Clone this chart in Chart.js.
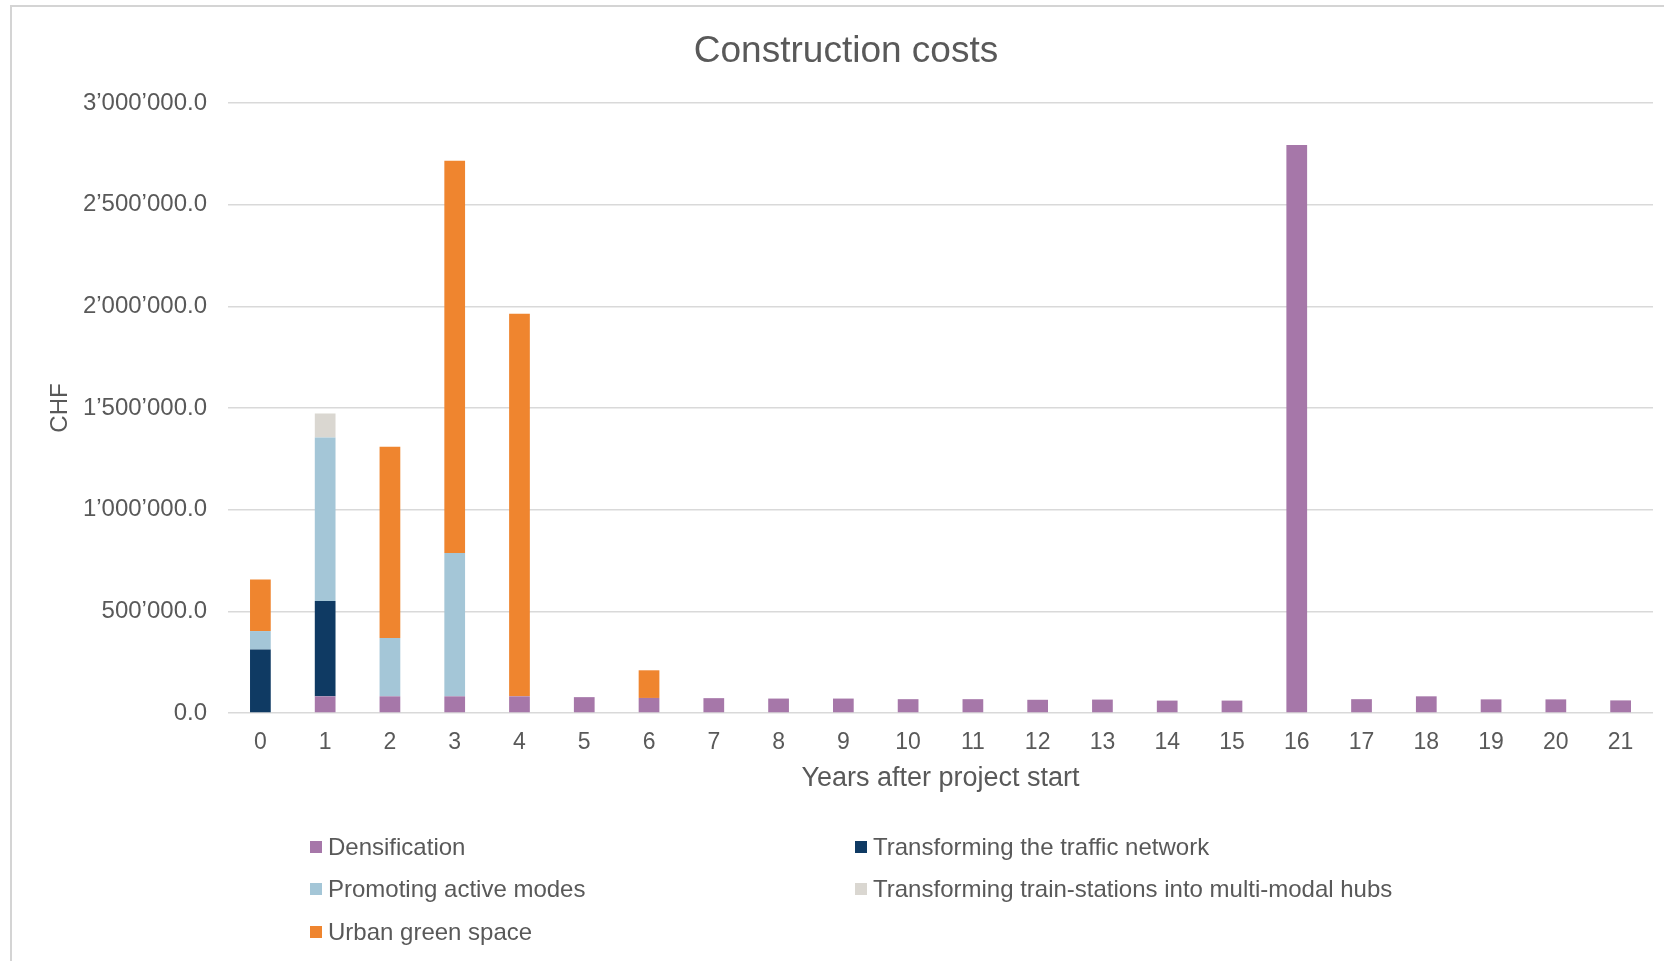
<!DOCTYPE html>
<html>
<head>
<meta charset="utf-8">
<script src="https://cdn.jsdelivr.net/npm/chart.js@4"></script>
<style>
    html, body { margin: 0; padding: 0; background: #ffffff; }
    canvas { display: block; }
</style>
</head>
<body>
<canvas id="barChart" width="1664" height="961"></canvas>
<script>
const years = ["0", "1", "2", "3", "4", "5", "6", "7", "8", "9", "10", "11", "12", "13", "14", "15", "16", "17", "18", "19", "20", "21"];

const densification = [0, 82000, 82000, 82000, 82000, 78000, 74000, 73000, 71000, 71000, 68000, 68000, 65000, 66000, 61000, 61000, 2793000, 68000, 82000, 67000, 67000, 62000];
const trafficNetwork = [312000, 469000, 0, 0, 0, 0, 0, 0, 0, 0, 0, 0, 0, 0, 0, 0, 0, 0, 0, 0, 0, 0];
const activeModes = [91000, 804000, 287000, 705000, 0, 0, 0, 0, 0, 0, 0, 0, 0, 0, 0, 0, 0, 0, 0, 0, 0, 0];
const trainStations = [0, 118000, 0, 0, 0, 0, 0, 0, 0, 0, 0, 0, 0, 0, 0, 0, 0, 0, 0, 0, 0, 0];
const greenSpace = [254000, 0, 941000, 1929000, 1881000, 0, 136000, 0, 0, 0, 0, 0, 0, 0, 0, 0, 0, 0, 0, 0, 0, 0];

const seriesNames = [
    "Densification",
    "Transforming the traffic network",
    "Promoting active modes",
    "Transforming train-stations into multi-modal hubs",
    "Urban green space",
];
const yTicks = [0, 500000, 1000000, 1500000, 2000000, 2500000, 3000000];

const textColor = "#595959";
const fontFamily = "'Liberation Sans', Arial, Helvetica, sans-serif";

// 3000000 -> 3’000’000.0
function chf(v) {
    const parts = v.toFixed(1).split(".");
    return parts[0].replace(/\B(?=(\d{3})+(?!\d))/g, "\u2019") + "." + parts[1];
}

// frame, title and the two-column legend
const decorPlugin = {
    id: "decor",
    beforeDraw(chart) {
        const c = chart.ctx;
        c.save();
        c.strokeStyle = "#d4d4d4";
        c.lineWidth = 2;
        c.strokeRect(11, 6, 1700, 1000);
        c.restore();
    },
    afterDraw(chart) {
        const c = chart.ctx;
        c.save();
        c.fillStyle = textColor;
        c.font = "37px " + fontFamily;
        c.textAlign = "center";
        c.textBaseline = "alphabetic";
        c.fillText("Construction costs", 846, 62);

        const colX = [310, 855];
        const rowY = [847, 889, 932];
        c.font = "24px " + fontFamily;
        c.textAlign = "left";
        c.textBaseline = "middle";
        chart.data.datasets.forEach((ds, i) => {
            const x = colX[i % 2];
            const y = rowY[Math.floor(i / 2)];
            c.fillStyle = ds.backgroundColor;
            c.fillRect(x, y - 6, 12, 12);
            c.fillStyle = textColor;
            c.fillText(ds.label, x + 18, y + 1);
        });
        c.restore();
    },
};

const ctx = document.getElementById("barChart").getContext("2d");

const data = {
    labels: years,
    datasets: [
        { label: seriesNames[0], data: densification, backgroundColor: "#a677a9" },
        { label: seriesNames[1], data: trafficNetwork, backgroundColor: "#0f3a63" },
        { label: seriesNames[2], data: activeModes, backgroundColor: "#a4c6d7" },
        { label: seriesNames[3], data: trainStations, backgroundColor: "#dad7d1" },
        { label: seriesNames[4], data: greenSpace, backgroundColor: "#ef852f" },
    ],
};

const config = {
    type: "bar",
    data: data,
    options: {
        responsive: false,
        animation: false,
        events: [],
        barPercentage: 0.32,
        categoryPercentage: 1,
        layout: {
            padding: { left: 0, right: 11, top: 103, bottom: 0 },
        },
        plugins: {
            legend: { display: false },
            title: { display: false },
            tooltip: { enabled: false },
        },
        scales: {
            x: {
                stacked: true,
                grid: { display: false, drawTicks: false },
                border: { display: false },
                ticks: {
                    color: textColor,
                    font: { family: fontFamily, size: 23 },
                    padding: 16,
                    maxRotation: 0,
                    autoSkip: false,
                },
                title: {
                    display: true,
                    text: "Years after project start",
                    color: textColor,
                    font: { family: fontFamily, size: 27 },
                    padding: { top: 0, bottom: 166 },
                },
                afterFit(scale) {
                    scale.height = 248;
                },
            },
            y: {
                stacked: true,
                min: 0,
                max: 3000000,
                afterBuildTicks(scale) {
                    scale.ticks = yTicks.map((v) => ({ value: v }));
                },
                grid: { color: "#d9d9d9", lineWidth: 1.5, drawTicks: false },
                border: { display: false },
                ticks: {
                    color: textColor,
                    font: { family: fontFamily, size: 24 },
                    padding: 21,
                    callback: (v) => chf(v),
                },
                title: {
                    display: true,
                    text: "CHF",
                    color: textColor,
                    font: { family: fontFamily, size: 24 },
                    padding: { top: 46, bottom: 0 },
                },
                afterFit(scale) {
                    scale.width = 228;
                },
            },
        },
    },
    plugins: [decorPlugin],
};

const barChart = new Chart(ctx, config);
</script>
</body>
</html>
